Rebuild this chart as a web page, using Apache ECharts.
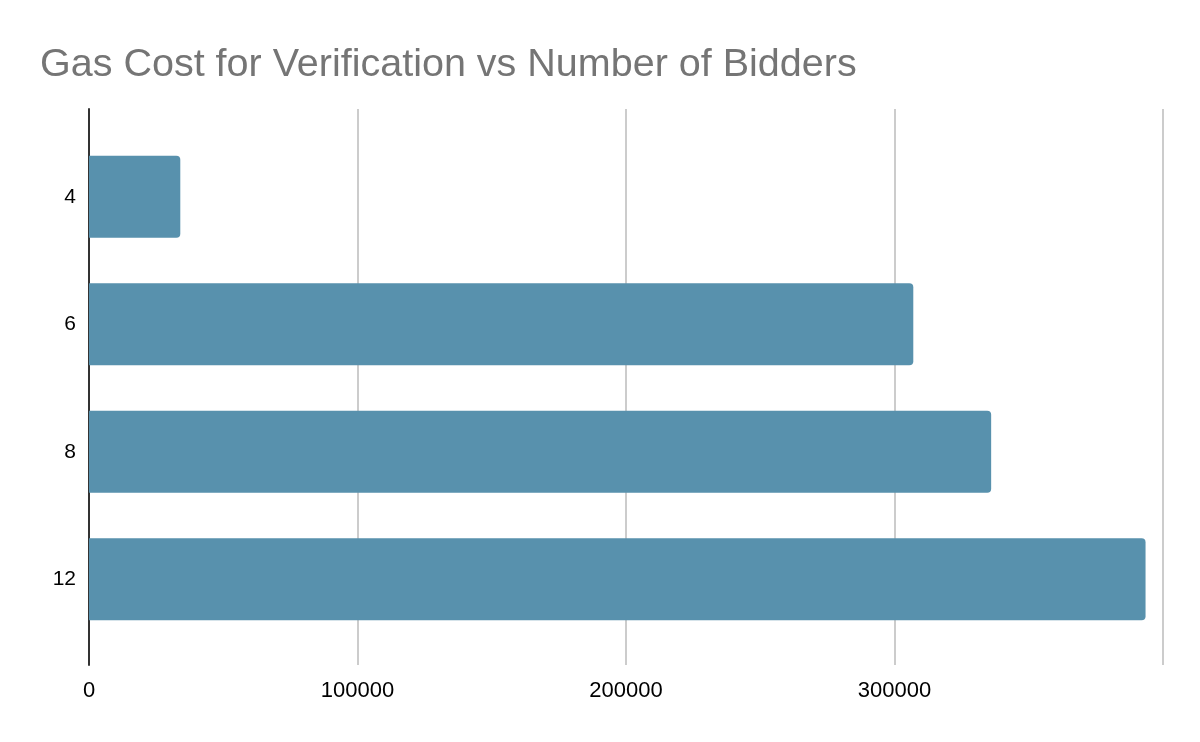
<!DOCTYPE html>
<html>
<head>
<meta charset="utf-8">
<script src="https://cdn.jsdelivr.net/npm/echarts@6/dist/echarts.min.js"></script>
<style>html,body{margin:0;padding:0;background:#fff}#c{width:1200px;height:742px}</style>
</head>
<body>
<div id="c"></div>
<script>
const categories = ['4', '6', '8', '12'];
const gasCost = [34000, 307000, 336000, 393500];
const xTicks = [0, 100000, 200000, 300000, 400000];

const chart = echarts.init(document.getElementById('c'));
const font = 'Liberation Sans, Arial, sans-serif';
chart.setOption({
  animation: false,
  title: {
    text: 'Gas Cost for Verification vs Number of Bidders',
    left: 35, top: 40,
    textStyle: { fontFamily: font, fontSize: 39.5, fontWeight: 'normal', color: '#757575' }
  },
  grid: [
    { left: 89, right: 37, top: 109, bottom: 77 },
    { left: 89, right: 37, top: 133, bottom: 99 }
  ],
  xAxis: [
    {
      gridIndex: 0, type: 'value', min: xTicks[0], max: xTicks[xTicks.length - 1], interval: 100000,
      axisLine: { show: false }, axisTick: { show: false },
      splitLine: { show: true, lineStyle: { color: '#cccccc', width: 2 } },
      axisLabel: {
        color: '#000', fontFamily: font, fontSize: 22, margin: 15,
        formatter: v => (v === xTicks[xTicks.length - 1] ? '' : String(v))
      }
    },
    {
      gridIndex: 1, type: 'value', min: xTicks[0], max: xTicks[xTicks.length - 1],
      axisLine: { show: false }, axisTick: { show: false }, axisLabel: { show: false },
      splitLine: { show: false }
    }
  ],
  yAxis: [
    {
      gridIndex: 0, type: 'value', min: 0, max: 1, show: true,
      axisLine: { show: true, onZero: false, lineStyle: { color: '#333333', width: 2 } },
      axisTick: { show: false }, axisLabel: { show: false }, splitLine: { show: false }
    },
    {
      gridIndex: 1, type: 'category', data: categories, inverse: true,
      axisLine: { show: false }, axisTick: { show: false }, splitLine: { show: false },
      axisLabel: { color: '#000', fontFamily: font, fontSize: 21, margin: 13 }
    }
  ],
  series: [{
    type: 'bar', xAxisIndex: 1, yAxisIndex: 1,
    data: gasCost, barWidth: 82,
    itemStyle: { color: '#5891ad', borderRadius: [0, 4, 4, 0] }
  }]
});
</script>
</body>
</html>
